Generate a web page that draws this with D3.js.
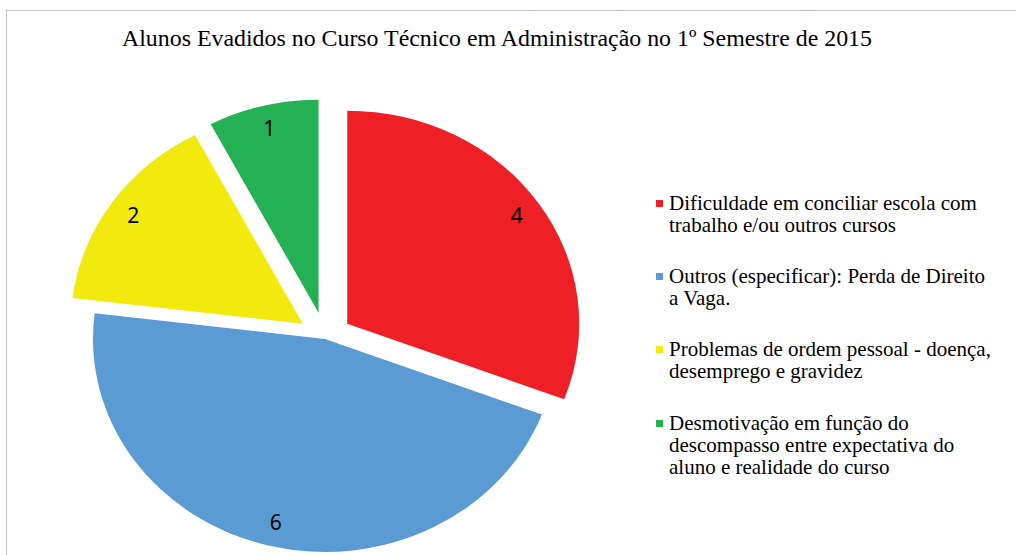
<!DOCTYPE html>
<html>
<head>
<meta charset="utf-8">
<script src="https://cdn.jsdelivr.net/npm/d3@7"></script>
</head>
<body style="margin:0">
<svg id="chart" width="1016" height="555"></svg>
<script>
// Chart data
const title = "Alunos Evadidos no Curso Técnico em Administração no 1º Semestre de 2015";
const categories = [
  "Dificuldade em conciliar escola com trabalho e/ou outros cursos",
  "Outros (especificar): Perda de Direito a Vaga.",
  "Problemas de ordem pessoal - doença, desemprego e gravidez",
  "Desmotivação em função do descompasso entre expectativa do aluno e realidade do curso"
];
const values = [4, 6, 2, 1];
// legend text, broken into lines as in the original
const legendLines = [
  ["Dificuldade em conciliar escola com", "trabalho e/ou outros cursos"],
  ["Outros (especificar): Perda de Direito", "a Vaga."],
  ["Problemas de ordem pessoal - doença,", "desemprego e gravidez"],
  ["Desmotivação em função do", "descompasso entre expectativa do", "aluno e realidade do curso"]
];
const colors = ["#ee1f25", "#5b9bd3", "#f2ea0f", "#23b153"];

const svg = d3.select("#chart");

// frame of the chart area (only top and left edges are in view)
svg.append("rect")
  .attr("x", 6.5).attr("y", 10.5)
  .attr("width", 1200).attr("height", 800)
  .attr("fill", "none")
  .attr("stroke", "#c6c6c6")
  .attr("stroke-width", 1.2);

// title
svg.append("text")
  .attr("x", 122).attr("y", 46)
  .style("font-family", '"Liberation Serif"')
  .style("font-size", "23px")
  .attr("textLength", 750)
  .attr("lengthAdjust", "spacingAndGlyphs")
  .text(title);

// pie (slightly stretched horizontally, like the picture)
const cx = 325, cy = 339;
const r = 213, sx = 232 / 213;
const explode = 27;        // pixels pulled out from centre
const keepIn = [1];        // index of the slice that is not pulled out

const pie = d3.pie().sort(null).value(d => d)(values);
const arc = d3.arc().innerRadius(0).outerRadius(r);
const labelR = 189;

const g = svg.append("g");
pie.forEach((p, i) => {
  const mid = (p.startAngle + p.endAngle) / 2;
  const off = keepIn.includes(i) ? 0 : explode;
  const vx = cx + off * Math.sin(mid);
  const vy = cy - off * Math.cos(mid);

  g.append("path")
    .attr("d", arc(p))
    .attr("transform", `translate(${vx},${vy}) scale(${sx},1)`)
    .attr("fill", colors[i]);

  g.append("text")
    .attr("x", vx + labelR * sx * Math.sin(mid))
    .attr("y", vy - labelR * Math.cos(mid) + 7)
    .attr("text-anchor", "middle")
    .style("font-family", '"Noto Sans"')
    .style("font-size", "21px")
    .text(values[i]);
});

// legend
const legendX = 669;
const legendTops = [210, 283, 356, 430];
const lineH = 22;
legendLines.forEach((lines, i) => {
  svg.append("rect")
    .attr("x", 656).attr("y", legendTops[i] - 10)
    .attr("width", 7).attr("height", 7)
    .attr("fill", colors[i]);
  lines.forEach((ln, j) => {
    svg.append("text")
      .attr("x", legendX)
      .attr("y", legendTops[i] + j * lineH)
      .style("font-family", '"Liberation Serif"')
      .style("font-size", "21px")
      .text(ln);
  });
});
</script>
</body>
</html>
